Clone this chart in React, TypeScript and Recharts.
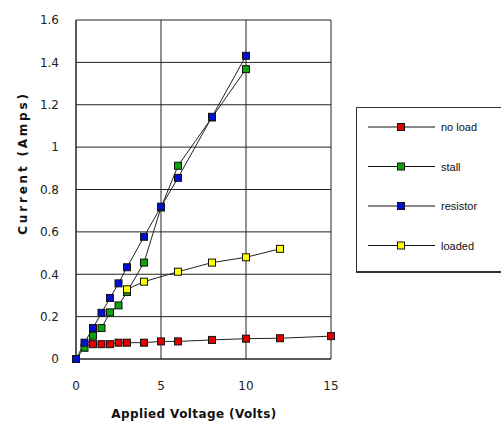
import { CartesianGrid, Label, Line, LineChart, XAxis, YAxis } from "recharts"

const xTicks = [0, 5, 10, 15]
const yTicks = [0, 0.2, 0.4, 0.6, 0.8, 1, 1.2, 1.4, 1.6]

const noLoadV = [1, 1.5, 2, 2.5, 3, 4, 5, 6, 8, 10, 12, 15]
const noLoadI = [0.07, 0.07, 0.07, 0.077, 0.077, 0.077, 0.083, 0.083, 0.09, 0.096, 0.098, 0.108]

const stallV = [0, 0.5, 1, 1.5, 2, 2.5, 3, 4, 5, 6, 8, 10]
const stallI = [0, 0.053, 0.11, 0.146, 0.22, 0.253, 0.316, 0.455, 0.715, 0.912, 1.14, 1.368]

const resistorV = [0, 0.5, 1, 1.5, 2, 2.5, 3, 4, 5, 6, 8, 10]
const resistorI = [0, 0.077, 0.146, 0.218, 0.288, 0.357, 0.433, 0.577, 0.719, 0.855, 1.143, 1.431]

const loadedV = [3, 4, 6, 8, 10, 12]
const loadedI = [0.329, 0.365, 0.412, 0.455, 0.48, 0.52]

const zip = (xs: number[], ys: number[]) => xs.map((v, i) => ({ v, i: ys[i] }))

const series = [
  { name: "no load", color: "#e00000", data: zip(noLoadV, noLoadI) },
  { name: "stall", color: "#10a010", data: zip(stallV, stallI) },
  { name: "resistor", color: "#0010d0", data: zip(resistorV, resistorI) },
  { name: "loaded", color: "#ffff00", data: zip(loadedV, loadedI) },
]

const titleStyle = {
  fontWeight: "bold",
  fontSize: 12,
  fontFamily: "DejaVu Sans, sans-serif",
  fill: "#111",
}

const squareDot = (color: string) => (props: any) => {
  const { cx, cy, index } = props
  if (cx == null || cy == null) return <g key={index} />
  return <rect key={index} x={cx - 3.5} y={cy - 3.5} width={7} height={7} fill={color} stroke="#111" strokeWidth={1} />
}

// legend drawn as an overlay so it doesn't eat into the plot area
const LegendBox = () => (
  <div
    style={{
      position: "absolute",
      left: 356,
      top: 107,
      width: 146,
      height: 166,
      border: "1px solid #333",
      borderBottomWidth: 2,
      background: "#fff",
      boxSizing: "border-box",
    }}
  >
    <svg width={146} height={164} style={{ display: "block" }}>
      {series.map((s, k) => {
        const y = 19 + k * 39.5
        return (
          <g key={s.name}>
            <line x1={11} x2={78} y1={y} y2={y} stroke="#111" strokeWidth={1} />
            <rect x={40.5} y={y - 3.5} width={7} height={7} fill={s.color} stroke="#111" />
            <text x={84} y={y + 4} fontSize={11} fontFamily="Liberation Sans, sans-serif" fill="#111">
              {s.name}
            </text>
          </g>
        )
      })}
    </svg>
  </div>
)

export default function App() {
  return (
    <div style={{ position: "absolute", left: 0, top: 0, width: 501, height: 423, background: "#fff" }}>
      <LineChart width={501} height={423} margin={{ top: 20, right: 170, bottom: 0, left: 0 }}>
        <CartesianGrid stroke="#222" strokeWidth={1} fill="#fff" />
        <XAxis
          type="number"
          dataKey="v"
          domain={[0, 15]}
          ticks={xTicks}
          allowDuplicatedCategory={false}
          height={64}
          axisLine={{ stroke: "#222" }}
          tickLine={false}
          tickMargin={16}
          tick={{ fill: "#222", fontSize: 12, fontFamily: "DejaVu Sans, sans-serif" }}
        >
          <Label
            content={() => (
              <text x={194} y={418} textAnchor="middle" letterSpacing={0.4} style={titleStyle}>
                Applied Voltage (Volts)
              </text>
            )}
          />
        </XAxis>
        <YAxis
          type="number"
          dataKey="i"
          domain={[0, 1.6]}
          ticks={yTicks}
          width={76}
          axisLine={{ stroke: "#222" }}
          tickLine={false}
          tickMargin={11}
          tick={{ fill: "#222", fontSize: 12, fontFamily: "DejaVu Sans, sans-serif" }}
        >
          <Label
            content={() => (
              <text
                x={0}
                y={0}
                transform="translate(27 163) rotate(-90)"
                textAnchor="middle"
                letterSpacing={2.8}
                style={titleStyle}
              >
                Current (Amps)
              </text>
            )}
          />
        </YAxis>
        {series.map((s) => (
          <Line
            key={s.name}
            data={s.data}
            dataKey="i"
            name={s.name}
            type="linear"
            stroke="#222"
            strokeWidth={1}
            dot={squareDot(s.color)}
            activeDot={false}
            isAnimationActive={false}
          />
        ))}
      </LineChart>
      <LegendBox />
    </div>
  )
}
